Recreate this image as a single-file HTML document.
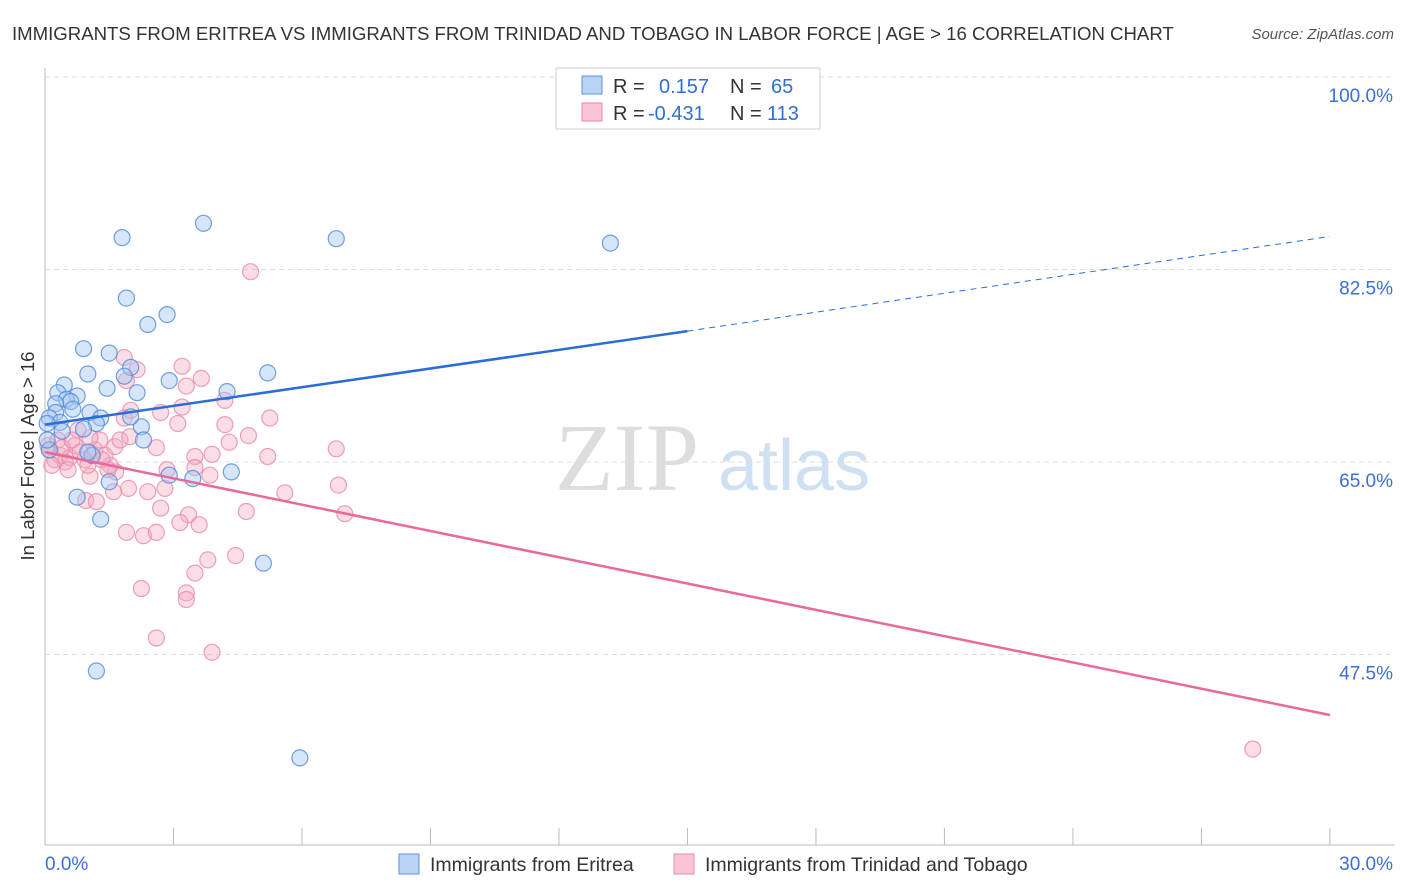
<!DOCTYPE html>
<html><head><meta charset="utf-8"><style>
body{margin:0;background:#fff;font-family:"Liberation Sans",sans-serif;}
#wrap{position:relative;width:1406px;height:892px;overflow:hidden;}
</style></head><body>
<div id="wrap">
<svg id="svg" width="1406" height="892">
<text x="12" y="40" font-size="18.6" fill="#333">IMMIGRANTS FROM ERITREA VS IMMIGRANTS FROM TRINIDAD AND TOBAGO IN LABOR FORCE | AGE &gt; 16 CORRELATION CHART</text>
<text x="1394" y="39" font-size="15" fill="#555" font-style="italic" text-anchor="end">Source: ZipAtlas.com</text>
<text x="555" y="490" font-size="96" fill="#ddd" font-family="Liberation Serif">ZIP</text>
<text x="718" y="490" font-size="72" fill="#cfe0f3">atlas</text>
<text transform="translate(34,456) rotate(-90)" font-size="18.5" fill="#333" text-anchor="middle">In Labor Force | Age &gt; 16</text>
<g id="grid"></g><g id="pts"></g><g id="trend"></g>
<rect x="556" y="68" width="264" height="61" fill="#fff" stroke="#ccc"/>
<rect x="582" y="76" width="20" height="18" fill="#b9d3f5" stroke="#5b93dd"/>
<rect x="582" y="103" width="20" height="18" fill="#f9c4d4" stroke="#e98aa8"/>
<text x="613" y="93" font-size="20" fill="#333">R = <tspan fill="#2f6fd6" x="659">0.157</tspan><tspan x="730" fill="#333">N = </tspan><tspan fill="#2f6fd6" x="771">65</tspan></text>
<text x="613" y="120" font-size="20" fill="#333">R = <tspan fill="#2f6fd6" x="648">-0.431</tspan><tspan x="730" fill="#333">N = </tspan><tspan fill="#2f6fd6" x="767">113</tspan></text>
<rect x="399" y="854" width="20" height="20" fill="#b9d3f5" stroke="#5b93dd"/>
<text x="430" y="871" font-size="19.5" fill="#333">Immigrants from Eritrea</text>
<rect x="674" y="854" width="20" height="20" fill="#f9c4d4" stroke="#e98aa8"/>
<text x="705" y="871" font-size="19.5" fill="#333">Immigrants from Trinidad and Tobago</text>
<text x="45" y="870" font-size="19" fill="#3a6fd8">0.0%</text>
<text x="1393" y="870" font-size="19" fill="#3a6fd8" text-anchor="end">30.0%</text>
</svg></div>
<script>
const yTicks=[100,82.5,65,47.5];
const yTickLabels=["100.0%","82.5%","65.0%","47.5%"];
const blueX=[1.8,3.7,6.8,13.2,1.9,2.85,2.4,0.9,1.5,1.0,2.0,5.2,2.9,1.85,0.45,1.45,4.25,2.15,0.3,0.75,0.5,0.6,0.25,0.65,1.05,1.3,0.25,0.1,0.35,1.2,0.9,2.25,2.0,2.3,1.1,1.0,0.1,2.9,3.45,4.35,1.5,0.75,1.3,5.1,1.2,5.95,0.05,0.4,0.05];
const blueY=[85.4,86.7,85.3,84.9,79.9,78.4,77.5,75.3,74.9,73,73.6,73.1,72.4,72.8,72,71.7,71.4,71.3,71.3,71,70.7,70.5,70.3,69.8,69.5,69,69.5,69,68.6,68.5,68,68.2,69.1,67,65.6,65.9,66.1,63.8,63.5,64.1,63.2,61.8,59.8,55.8,46,38.1,68.5,67.8,67];
const pinkX=[4.8,1.85,3.2,2.15,3.65,1.9,3.3,4.2,3.2,2.0,5.25,2.7,3.1,4.2,1.85,4.75,4.3,6.8,2.6,5.2,3.9,3.5,3.5,2.85,3.85,1.65,1.05,1.95,2.4,2.8,5.6,6.85,1.6,0.95,1.2,2.7,3.35,4.7,7.0,3.15,3.6,1.9,2.3,2.6,4.45,3.8,3.5,2.25,3.3,3.3,2.6,3.9,28.2,
0.12,0.23,0.35,0.47,0.58,0.07,0.3,0.7,0.82,0.93,1.17,1.28,1.4,1.52,0.54,0.16,0.4,1.05,0.77,1.33,1.63,1.75,1.98,0.63,1.0,1.47];
const pinkY=[82.3,74.5,73.7,73.4,72.6,72.4,71.9,70.6,70,69.7,69,69.5,68.5,68.4,69,67.4,66.8,66.2,66.3,65.5,65.7,65.5,64.5,64.3,63.8,64.1,63.7,62.6,62.3,62.6,62.2,62.9,62.3,61.5,61.4,60.8,60.2,60.5,60.3,59.5,59.3,58.6,58.3,58.6,56.5,56.1,54.9,53.5,53.1,52.5,49,47.7,38.9,
66.1,65.2,65.6,65,65.4,66.5,67,66.5,65.9,65.2,66.1,67,65.6,64.7,64.3,64.7,66.3,67.2,67.9,65.2,66.4,67,67.3,67,64.7,64.3];
const blueTrend=[68.4,76.9,85.5]; // at x=0,15,30
const pinkTrend=[65.9,42.0]; // at x=0,30
const X=v=>45+v*42.83, Y=v=>462-(v-65)*11;
const NS="http://www.w3.org/2000/svg";
function mk(t,a,p){const e=document.createElementNS(NS,t);for(const k in a)e.setAttribute(k,a[k]);p.appendChild(e);return e;}
const grid=document.getElementById('grid');
yTicks.forEach((t,i)=>{
 const l=mk('line',{x1:45,x2:1395,y1:Y(t),y2:Y(t),stroke:'#ddd','stroke-dasharray':'5,4'},grid);
 
 
 const tx=mk('text',{x:1393,y:Y(t)+25,'font-size':19,fill:'#3a6fd8','text-anchor':'end'},grid);
 tx.textContent=yTickLabels[i];
 
 
});
let ax=mk('line',{x1:45,x2:45,y1:68,y2:845,stroke:'#bbb'},grid);


ax=mk('line',{x1:45,x2:1395,y1:845,y2:845,stroke:'#bbb'},grid);


for(let i=0;i<=10;i++){const t=mk('line',{x1:X(i*3),x2:X(i*3),y1:828,y2:845,stroke:'#bbb'},grid);
 
 }
const pts=document.getElementById('pts');
pinkX.forEach((x,i)=>{const c=mk('circle',{cx:X(x),cy:Y(pinkY[i]),r:8,fill:'#f5a9c0','fill-opacity':0.4,stroke:'#e98aa8','stroke-opacity':0.8,'stroke-width':1.2},pts);
 
 });
blueX.forEach((x,i)=>{const c=mk('circle',{cx:X(x),cy:Y(blueY[i]),r:8,fill:'#a5c6f0','fill-opacity':0.45,stroke:'#4f8ad9','stroke-opacity':0.8,'stroke-width':1.2},pts);
 
 });
const tr=document.getElementById('trend');
let l=mk('line',{x1:X(0),y1:Y(blueTrend[0]),x2:X(15),y2:Y(blueTrend[1]),stroke:'#2a6dd6','stroke-width':2.5},tr);


l=mk('line',{x1:X(15),y1:Y(blueTrend[1]),x2:X(30),y2:Y(blueTrend[2]),stroke:'#2a6dd6','stroke-width':1,'stroke-dasharray':'6,5'},tr);


l=mk('line',{x1:X(0),y1:Y(pinkTrend[0]),x2:X(30),y2:Y(pinkTrend[1]),stroke:'#e8699a','stroke-width':2.5},tr);


</script>
</body></html>
